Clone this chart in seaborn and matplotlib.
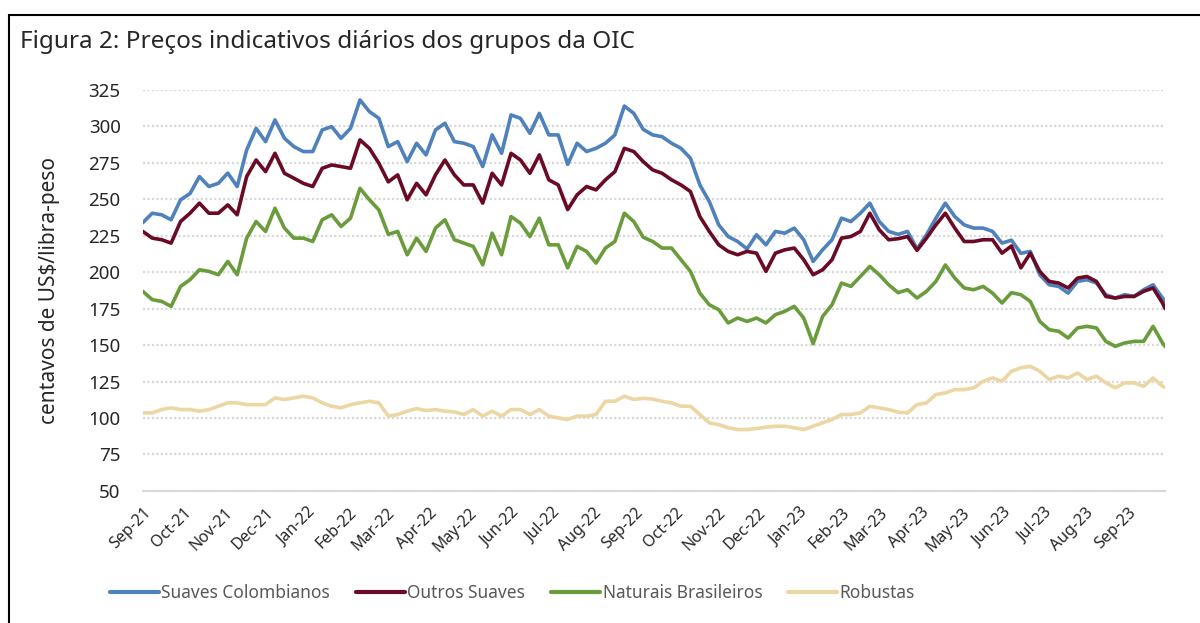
import pandas as pd
import seaborn as sns
import matplotlib.dates as mdates
from matplotlib import pyplot as plt
from matplotlib.patches import Rectangle

# weekly readings (cents US$/lb) from 1 Sep 2021, plus last day of the series
colombianos = [234, 240.5, 239.4, 236, 249.7, 254, 265.6, 258.8, 261, 268, 258.8, 283.9, 298.7, 289.6, 304.5,
               291.9, 286.2, 282.8, 282.8, 297.6, 299.9, 291.9, 298.7, 318.2, 310.2, 305.6, 286.2, 289.6, 275.9,
               288.5, 280.5, 297.6, 302.2, 289.6, 288.5, 286.2, 272.5, 294.2, 281.6, 307.9, 305.6, 295.3, 309,
               294.2, 294.2, 274, 288.5, 282.8, 285, 288.5, 294.2, 314, 309, 298, 294.2, 293, 288.5, 285, 278.2,
               259.9, 248.5, 232.5, 224.5, 221.1, 216, 225.7, 218.8, 228, 226.8, 230.3, 222.3, 207.4, 215.4,
               222.3, 237.1, 234.8, 240.5, 247.4, 234.8, 228, 226, 228, 216, 225.7, 237.1, 247.4, 238.2, 232.5,
               230.3, 230.3, 228, 220, 222, 213, 214.3, 198.3, 191.4, 190.3, 185.7, 193.7, 194.9, 192.6, 184.6,
               182.3, 184.6, 183.4, 188, 191.4, 182.3, 180]
outros = [228, 223.4, 222.3, 220, 234.8, 240.5, 247.4, 240.5, 240.5, 246.2, 239.4, 265.6, 277, 269, 281.6,
          267.9, 264.5, 261, 258.8, 271.3, 273.6, 272.5, 271.3, 290.8, 285, 274.8, 262, 266.8, 249.7, 261,
          253.1, 266.8, 277, 266.8, 259.9, 259.9, 247.4, 267.9, 259.9, 281.6, 277, 267.9, 280.5, 263.4, 259.9,
          243, 253.1, 258.8, 256.5, 263.4, 269, 285, 282.8, 275.9, 270.2, 267.9, 263.4, 259.9, 255.4, 238.2,
          228, 218.8, 214.3, 212, 214.3, 213.1, 200.6, 213.1, 215.4, 216.6, 208.6, 198.3, 201.7, 208.6, 223.4,
          224.5, 228, 240.5, 229.1, 222.3, 223, 224.5, 215, 223.4, 232.5, 240.5, 230.3, 221.1, 221.1, 222.3,
          222.3, 213.1, 218, 203, 213.1, 200.6, 193.7, 192.6, 189.2, 196, 197.1, 193.7, 183.4, 182.3, 183.4,
          183.4, 186.9, 189.2, 178.9, 175]
brasileiros = [186.9, 181.2, 180, 176.6, 190.3, 194.9, 201.7, 200.6, 198.3, 207.4, 198.3, 223.4, 234.8, 228,
               243.9, 230.3, 223.4, 223.4, 221.1, 236, 239.4, 231.4, 237.1, 257.6, 249.7, 242.8, 226, 228, 212,
               223.4, 214.3, 230.3, 236, 222.3, 220, 217.7, 205.1, 226.8, 212, 238.2, 233.7, 224.5, 237.1, 218.8,
               218.8, 203, 217.7, 214.3, 206.3, 216.6, 221.1, 240.5, 234.8, 224, 221.1, 216.6, 216.6, 208.6,
               200.6, 185.7, 177.7, 174.3, 165.2, 168.6, 166.3, 168.6, 165.2, 170.9, 173.2, 176.6, 168.6, 151,
               169.7, 177.7, 192.6, 190.3, 197.1, 204, 198.3, 191.4, 186, 188, 182.3, 186.9, 193.7, 205, 196,
               189.2, 188, 190.3, 185.7, 178.9, 186, 184.6, 180, 166.3, 160.6, 159.5, 154.9, 161.8, 162.9, 161.8,
               152.6, 149.2, 151.5, 152.6, 152.6, 162.9, 151.5, 149]
robustas = [103.5, 103.5, 105.8, 107, 105.8, 105.8, 104.7, 105.8, 108.1, 110.4, 110.4, 109.2, 109.2, 109.2,
            113.8, 112.7, 113.8, 115, 113.8, 110.4, 108.1, 107, 109.2, 110.4, 111.5, 110.4, 101.3, 102.4, 104.7,
            106.5, 105.1, 105.8, 104.7, 104.2, 102.4, 105.8, 101.3, 104.7, 101.3, 105.8, 105.8, 102.4, 105.8,
            101.3, 100.1, 99, 101.3, 101.3, 102.4, 111.5, 111.5, 115, 112.7, 113.5, 113, 111.5, 110.4, 108.1,
            108.1, 102.4, 96.7, 95.5, 93.3, 92.1, 92.1, 92.8, 93.7, 94.4, 94.4, 93.3, 92.1, 94.4, 96.7, 99,
            102.4, 102.4, 103.5, 108.1, 107, 105.8, 104, 103.5, 109.2, 110.4, 116.1, 117.2, 119.5, 119.5, 120.7,
            125.2, 127.5, 125.2, 132.1, 134.4, 135.5, 132.1, 126.4, 128.7, 127.5, 130.9, 126.4, 128.7, 124.1,
            120.7, 124.1, 124.1, 121.8, 127.5, 121.8, 121]

dates = list(pd.date_range('2021-09-01', periods=109, freq='7D')) + [pd.Timestamp('2023-09-29')]
names = ['Suaves Colombianos', 'Outros Suaves', 'Naturais Brasileiros', 'Robustas']
colors = ['#4f81bd', '#6b0a24', '#6a9c3c', '#ecd6a3']

frames = []
for name, vals in zip(names, [colombianos, outros, brasileiros, robustas]):
    frames.append(pd.DataFrame({'data': dates, 'preco': vals, 'grupo': name}))
df = pd.concat(frames)

sns.set_style('white')
plt.rcParams['font.family'] = ['Noto Sans', 'DejaVu Sans']

fig = plt.figure(figsize=(12, 6.23), dpi=100)
ax = fig.add_axes([0.119, 0.212, 0.852, 0.6435])
sns.lineplot(data=df, x='data', y='preco', hue='grupo', palette=colors, linewidth=2.6, ax=ax, legend=False)

ax.set_ylim(50, 325)
ax.set_yticks(range(50, 326, 25))
ax.set_xlim(pd.Timestamp('2021-09-01'), pd.Timestamp('2023-09-29'))
ax.xaxis.set_major_locator(mdates.MonthLocator())
ax.xaxis.set_major_formatter(mdates.DateFormatter('%b-%y'))
ax.yaxis.grid(True, linestyle=(0, (1, 1)), color='#d9d9d9', linewidth=1.6)
ax.xaxis.grid(False)
for s in ['top', 'right', 'left']:
    ax.spines[s].set_visible(False)
ax.spines['bottom'].set_color('#d9d9d9')
ax.spines['bottom'].set_linewidth(1.5)
ax.tick_params(axis='y', length=0, pad=16, labelsize=13.5)
ax.tick_params(axis='x', length=0, pad=10, labelsize=11.5)
plt.setp(ax.get_xticklabels(), rotation=45, ha='right', rotation_mode='anchor')
ax.set_xlabel('')
ax.set_ylabel('centavos de US$/libra-peso', fontsize=15, labelpad=20)

handles = [plt.Line2D([], [], color=c, linewidth=3) for c in colors]
fig.legend(handles, names, loc='center', bbox_to_anchor=(0.427, 0.048), ncol=4, frameon=False,
           fontsize=12.5, handlelength=2.8, handletextpad=0.15, columnspacing=1.5, labelcolor='#595959')

fig.text(0.017, 0.932, 'Figura 2: Preços indicativos diários dos grupos da OIC', fontsize=17.5, va='center')
fig.patches.append(Rectangle((9 / 1200, -0.01), 1.0, 0.986, transform=fig.transFigure, fill=False,
                             edgecolor='black', linewidth=1.5))

fig.savefig('out.png', dpi=100)
